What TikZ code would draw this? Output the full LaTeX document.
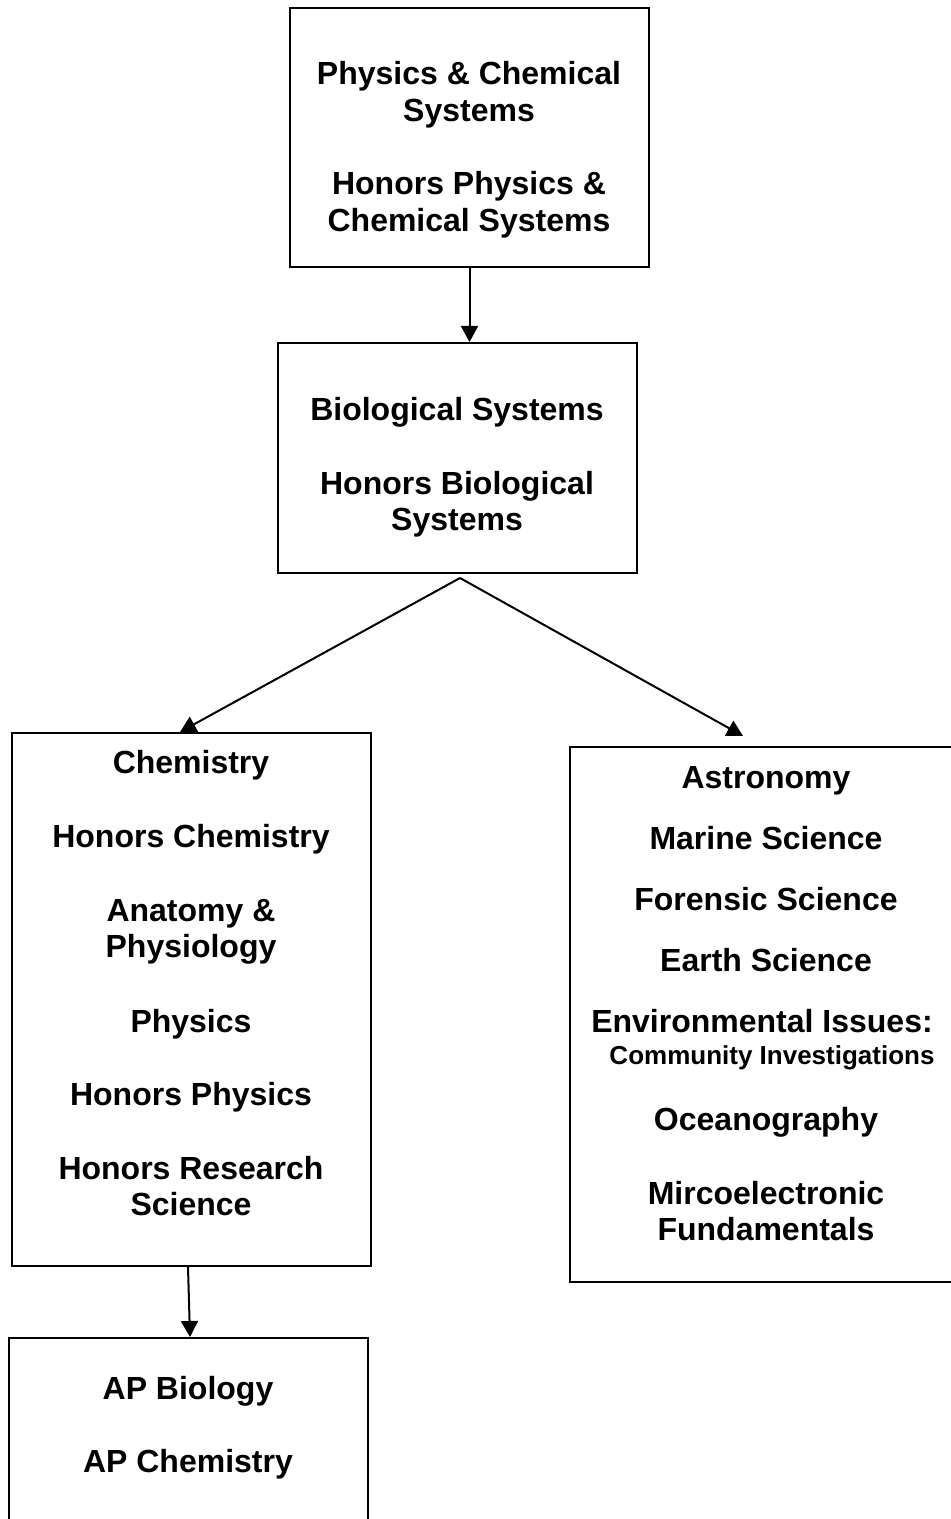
\documentclass[tikz,border=0pt]{standalone}
\usepackage{fontspec}
\setmainfont{Liberation Sans}
\usetikzlibrary{arrows.meta}

\tikzset{
  box/.style={draw, line width=1pt, rectangle, inner sep=0pt},
  course/.style={anchor=base, inner sep=0pt, font=\bfseries\fontsize{16}{18.5}\selectfont},
  subcourse/.style={anchor=base, inner sep=0pt, font=\bfseries\fontsize{13}{15}\selectfont},
  link/.style={line width=1pt, -{Triangle[length=8pt,width=8.5pt]}}
}

\begin{document}
\begin{tikzpicture}[x=0.5pt, y=-0.5pt]
  \clip (0,0) rectangle (951,1519);
  \fill[white] (0,0) rectangle (951,1519);

  % course boxes
  \node[box, minimum width=179.5pt, minimum height=129.5pt] (a) at (469.5,137.5) {};
  \node[box, minimum width=179.5pt, minimum height=115pt]   (b) at (457.5,458) {};
  \node[box, minimum width=179.5pt, minimum height=266.5pt] (c) at (191.5,999.5) {};
  \node[box, minimum width=179.5pt, minimum height=111pt]   (d) at (188.5,1449) {};
  \node[box, minimum width=215pt,   minimum height=267.5pt] (e) at (785,1014.5) {};

  % first year
  \node[course] (a1) at (469,85)  {Physics \& Chemical};
  \node[course] (a2) at (469,122) {Systems};
  \node[course] (a3) at (469,195) {Honors Physics \&};
  \node[course] (a4) at (469,232) {Chemical Systems};

  % second year
  \node[course] (b1) at (457,420) {Biological Systems};
  \node[course] (b2) at (457,494) {Honors Biological};
  \node[course] (b3) at (457,530) {Systems};

  % left branch
  \node[course] (c1) at (191,773)  {Chemistry};
  \node[course] (c2) at (191,847)  {Honors Chemistry};
  \node[course] (c3) at (191,921)  {Anatomy \&};
  \node[course] (c4) at (191,957)  {Physiology};
  \node[course] (c5) at (191,1032) {Physics};
  \node[course] (c6) at (191,1105) {Honors Physics};
  \node[course] (c7) at (191,1179) {Honors Research};
  \node[course] (c8) at (191,1215) {Science};

  % advanced placement
  \node[course] (d1) at (188,1399) {AP Biology};
  \node[course] (d2) at (188,1472) {AP Chemistry};

  % right branch
  \node[course]    (e1) at (766,788)  {Astronomy};
  \node[course]    (e2) at (766,849)  {Marine Science};
  \node[course]    (e3) at (766,910)  {Forensic Science};
  \node[course]    (e4) at (766,971)  {Earth Science};
  \node[course]    (e5) at (762,1032) {Environmental Issues:};
  \node[subcourse] (e6) at (772,1064) {Community Investigations};
  \node[course]    (e7) at (766,1130) {Oceanography};
  \node[course]    (e8) at (766,1204) {Mircoelectronic};
  \node[course]    (e9) at (766,1240) {Fundamentals};

  % connectors
  \coordinate (split) at ([xshift=1.25pt, yshift=-2pt]b.south);
  \draw[link] (a.south) -- (a.south |- b.north);
  \draw[link] (split) -- ([xshift=-5.75pt]c.north);
  \draw[link] (split) -- ([xshift=-21pt, yshift=5pt]e.north);
  \draw[link] ([xshift=-1.75pt]c.south) -- ([xshift=0.75pt]d.north);
\end{tikzpicture}
\end{document}
